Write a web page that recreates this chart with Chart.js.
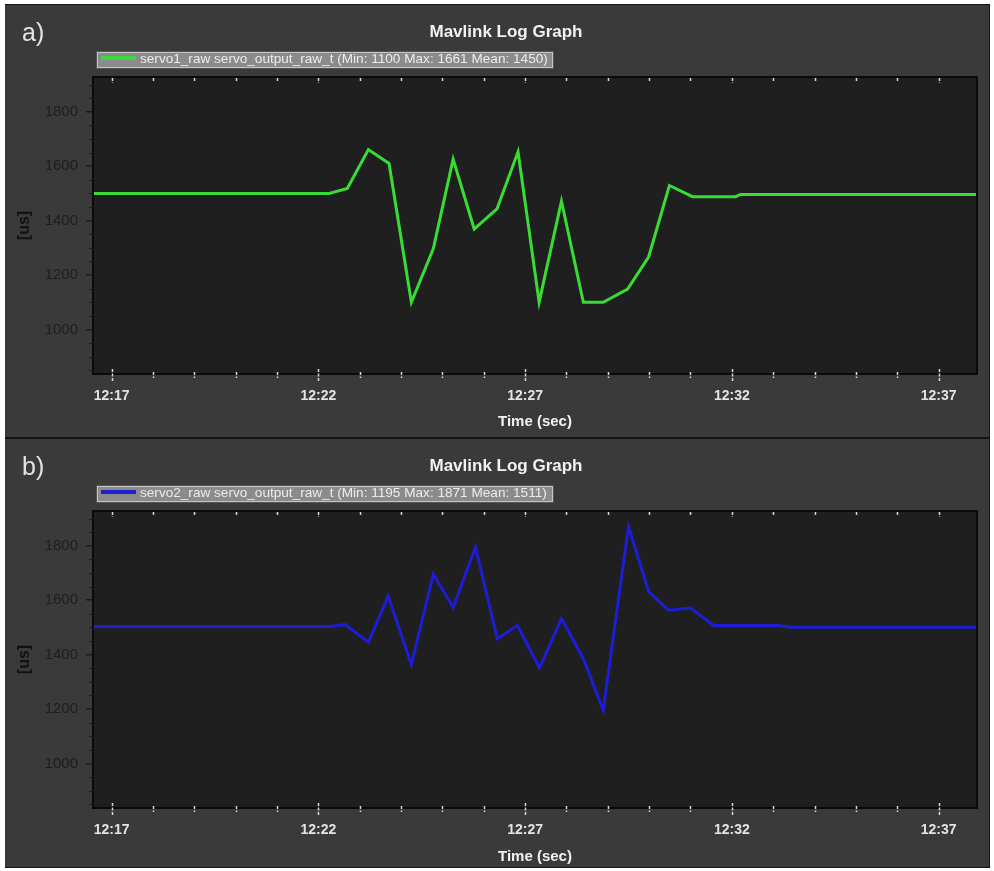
<!DOCTYPE html>
<html>
<head>
<meta charset="utf-8">
<script src="https://cdn.jsdelivr.net/npm/chart.js@4.4.1/dist/chart.umd.min.js"></script>
<style>
  body { margin: 0; background: #fff; width: 994px; height: 871px; position: relative; overflow: hidden; font-family: "Liberation Sans", Arial, sans-serif; }
  #frame { position: absolute; left: 5px; top: 4px; width: 985px; height: 864px; background: #141414; }
  .panel { position: absolute; left: 5px; width: 984px; background: #3a3a3a; }
  .panel canvas { position: absolute; left: 0; top: 0; }
  .tag { position: absolute; left: 17px; top: 13px; font-size: 25px; color: #e4e4e4; }
  .title { position: absolute; left: 0; width: 1002px; top: 17px; text-align: center; font-size: 17px; font-weight: bold; color: #f2f2f2; }
  .legend { position: absolute; left: 92px; top: 47px; width: 454px; height: 14px; background: #8b8b8b; border: 1px solid #c4c4c4; outline: 1px solid #555; font-size: 13.6px; line-height: 12px; color: #ececec; white-space: nowrap; }
  .legend span.swatch { display: inline-block; width: 35px; height: 4px; margin: 0 4px 2px 3px; vertical-align: middle; }
</style>
</head>
<body>
<div id="frame"></div>

<div class="panel" style="top:5px;height:432px">
  <canvas id="chartA" width="984" height="432"></canvas>
  <div class="tag">a)</div>
  <div class="title">Mavlink Log Graph</div>
  <div class="legend"><span class="swatch" style="background:#3ad83a"></span>servo1_raw servo_output_raw_t (Min: 1100 Max: 1661 Mean: 1450)</div>
</div>

<div class="panel" style="top:439px;height:428px">
  <canvas id="chartB" width="984" height="428"></canvas>
  <div class="tag">b)</div>
  <div class="title">Mavlink Log Graph</div>
  <div class="legend"><span class="swatch" style="background:#1e1ed0"></span>servo2_raw servo_output_raw_t (Min: 1195 Max: 1871 Mean: 1511)</div>
</div>

<script>
// time in minutes after 12:00
const timeA = [16.55, 22.26, 22.70, 23.21, 23.71, 24.25, 24.78, 25.26, 25.77, 26.32, 26.83, 27.34, 27.88, 28.41, 28.89, 29.48, 29.99, 30.49, 31.05, 32.09, 32.21, 37.93];
const servo1 = [1500, 1500, 1518, 1661, 1610, 1100, 1296, 1626, 1369, 1443, 1653, 1100, 1471, 1100, 1100, 1148, 1267, 1529, 1488, 1488, 1496, 1496];

const timeB = [16.55, 22.29, 22.65, 23.21, 23.69, 24.25, 24.78, 25.26, 25.80, 26.33, 26.81, 27.35, 27.88, 28.41, 28.89, 29.50, 29.99, 30.47, 31.00, 31.56, 33.11, 33.42, 37.93];
const servo2 = [1503, 1503, 1510, 1446, 1615, 1363, 1696, 1573, 1795, 1458, 1507, 1351, 1532, 1385, 1195, 1871, 1631, 1563, 1571, 1507, 1507, 1501, 1501];

const xTicks = [17, 22, 27, 32, 37];
const yTicks = [1000, 1200, 1400, 1600, 1800];
const xRange = [16.55, 37.93];
const yRange = [836, 1928];

const FONT = '"Liberation Sans", Arial, sans-serif';

// plot background, border and the small tick marks
const plotFrame = {
    id: 'plotFrame',
    beforeDraw(chart) {
        const { ctx, chartArea: a } = chart;
        ctx.save();
        ctx.fillStyle = '#1f1f1f';
        ctx.fillRect(a.left, a.top, a.right - a.left, a.bottom - a.top);
        ctx.restore();
    },
    afterDraw(chart) {
        const { ctx, chartArea: a, scales: { x, y } } = chart;
        ctx.save();
        ctx.strokeStyle = '#0a0a0a';
        ctx.lineWidth = 2;
        ctx.strokeRect(a.left, a.top, a.right - a.left, a.bottom - a.top);

        // minute ticks, top and bottom
        ctx.strokeStyle = '#d8d8d8';
        ctx.lineWidth = 1.5;
        ctx.setLineDash([3, 1.5]);
        for (let m = Math.ceil(x.min); m <= x.max; m++) {
            const px = Math.round(x.getPixelForValue(m)) + 0.5;
            const major = xTicks.includes(m);
            ctx.beginPath();
            ctx.moveTo(px, a.bottom - (major ? 5 : 2));
            ctx.lineTo(px, a.bottom + (major ? 8 : 4));
            ctx.moveTo(px, a.top + 1);
            ctx.lineTo(px, a.top + (major ? 6 : 4));
            ctx.stroke();
        }
        ctx.setLineDash([]);

        // minor value ticks on the left
        ctx.strokeStyle = '#1c1c1c';
        ctx.lineWidth = 1;
        for (let v = 850; v <= y.max; v += 50) {
            if (yTicks.includes(v)) continue;
            const py = Math.round(y.getPixelForValue(v)) + 0.5;
            ctx.beginPath();
            ctx.moveTo(a.left - 4, py);
            ctx.lineTo(a.left, py);
            ctx.stroke();
        }
        ctx.restore();
    }
};

function makeChart(id, times, values, color, xAxisHeight, titlePad) {
    return new Chart(document.getElementById(id), {
        type: 'line',
        data: {
            datasets: [{
                data: times.map((t, i) => ({ x: t, y: values[i] })),
                borderColor: color,
                borderWidth: 3,
                pointRadius: 0,
                tension: 0
            }]
        },
        options: {
            responsive: false,
            animation: false,
            layout: { padding: { left: 0, right: 12, top: 72, bottom: 0 } },
            plugins: { legend: { display: false }, tooltip: { enabled: false } },
            scales: {
                x: {
                    type: 'linear',
                    min: xRange[0],
                    max: xRange[1],
                    afterBuildTicks: s => { s.ticks = xTicks.map(v => ({ value: v })); },
                    afterFit: s => { s.height = xAxisHeight; },
                    grid: { display: false, drawTicks: false },
                    border: { display: false },
                    ticks: {
                        color: '#e4e4e4',
                        padding: 14,
                        maxRotation: 0,
                        font: { family: FONT, size: 14, weight: 'bold' },
                        callback: v => '12:' + v
                    },
                    title: {
                        display: true,
                        text: 'Time (sec)',
                        color: '#f2f2f2',
                        font: { family: FONT, size: 15, weight: 'bold' },
                        padding: { top: 0, bottom: titlePad }
                    }
                },
                y: {
                    min: yRange[0],
                    max: yRange[1],
                    afterBuildTicks: s => { s.ticks = yTicks.map(v => ({ value: v })); },
                    afterFit: s => { s.width = 88; },
                    grid: { drawOnChartArea: false, drawTicks: true, tickLength: 7, color: '#1c1c1c', lineWidth: 1.5 },
                    border: { display: true, color: '#1c1c1c', width: 1 },
                    ticks: {
                        color: '#1e1e1e',
                        padding: 8,
                        font: { family: FONT, size: 15 },
                        callback: v => String(v)
                    },
                    title: {
                        display: true,
                        text: '[us]',
                        color: '#121212',
                        font: { family: FONT, size: 16, weight: 'bold' },
                        padding: { top: 10, bottom: 0 }
                    }
                }
            }
        },
        plugins: [plotFrame]
    });
}

makeChart('chartA', timeA, servo1, '#38dc34', 63, 6);
makeChart('chartB', timeB, servo2, '#1d1dd6', 59, 1);
</script>
</body>
</html>
